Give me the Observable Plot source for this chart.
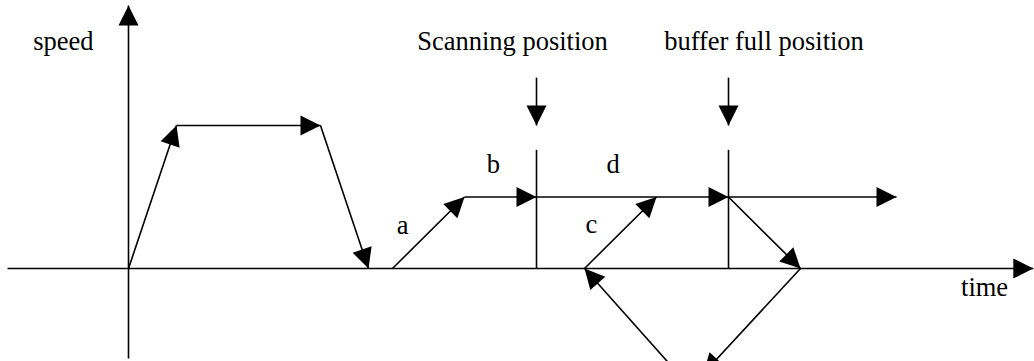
<!DOCTYPE html>
<html>
<head>
<meta charset="utf-8">
<script src="https://cdn.jsdelivr.net/npm/d3@7"></script>
<script src="https://cdn.jsdelivr.net/npm/@observablehq/plot@0.6"></script>
<style>
  html, body { margin: 0; padding: 0; background: #fff; overflow: hidden; }
</style>
</head>
<body>
<div id="chart"></div>
<script>
// ---- data (time units, speed units) ----
// segments: axes, motion profile, a/b/c/d moves, position markers
const segStartT = [0, -5.04, 0, 2, 8, 11, 14, 17, 19, 25, 25, 28, 23.3, 17, 25, 17, 25];
const segStartS = [-1.26, 0, 0, 2, 2, 0, 1, 1, 0, 1, 1, 0, -1.62, 2.67, 2.67, 0, 0];
const segEndT   = [0, 37.7, 2, 8, 10, 14, 17, 25, 22, 32, 28, 23.95, 19, 17, 25, 17, 25];
const segEndS   = [3.68, 0, 2, 2, 0, 1, 1, 1, 1, 1, 0, -1.47, 0, 2, 2, 1.66, 1.66];
const segHead   = [1, 1, 1, 1, 1, 1, 1, 1, 1, 1, 1, 1, 1, 1, 1, 0, 0];

const labelText = ["speed", "Scanning position", "buffer full position", "a", "b", "c", "d", "time"];
const labelT    = [-2.71, 16.0, 26.48, 11.42, 15.2, 19.29, 20.19, 35.67];
const labelS    = [3.06, 3.05, 3.05, 0.485, 1.335, 0.49, 1.335, -0.378];

// ---- layout ----
const W = 1034, H = 361;
const X0 = 128, PX_T = 24;    // pixel of t=0, pixels per time unit
const Y0 = 268, PX_S = 71.5;  // pixel of s=0, pixels per speed unit

const segments = segStartT.map((t1, i) => ({
  t1, s1: segStartS[i], t2: segEndT[i], s2: segEndS[i], head: segHead[i] === 1
}));
const labels = labelText.map((text, i) => ({text, t: labelT[i], s: labelS[i]}));

const rot = d => Math.atan2((d.t2 - d.t1) * PX_T, (d.s2 - d.s1) * PX_S) * 180 / Math.PI;

const chart = Plot.plot({
  width: W,
  height: H,
  margin: 0,
  style: {background: "#fff", fontFamily: "'Liberation Serif', 'Times New Roman', serif", overflow: "hidden"},
  x: {domain: [-X0 / PX_T, (W - X0) / PX_T], range: [0, W], axis: null},
  y: {domain: [-(H - Y0) / PX_S, Y0 / PX_S], range: [H, 0], axis: null},
  marks: [
    Plot.link(segments, {
      x1: "t1", y1: "s1", x2: "t2", y2: "s2",
      stroke: "#000", strokeWidth: 1.6, clip: true
    }),
    Plot.vector(segments.filter(d => d.head), {
      x: "t2", y: "s2", rotate: rot,
      length: 20, r: 10, shape: "spike", anchor: "end",
      fill: "#000", stroke: "none", clip: true
    }),
    Plot.text(labels, {
      x: "t", y: "s", text: "text",
      fontSize: 26.5, textAnchor: "middle", lineAnchor: "bottom", fill: "#000"
    })
  ]
});
document.getElementById("chart").appendChild(chart);
</script>
</body>
</html>
